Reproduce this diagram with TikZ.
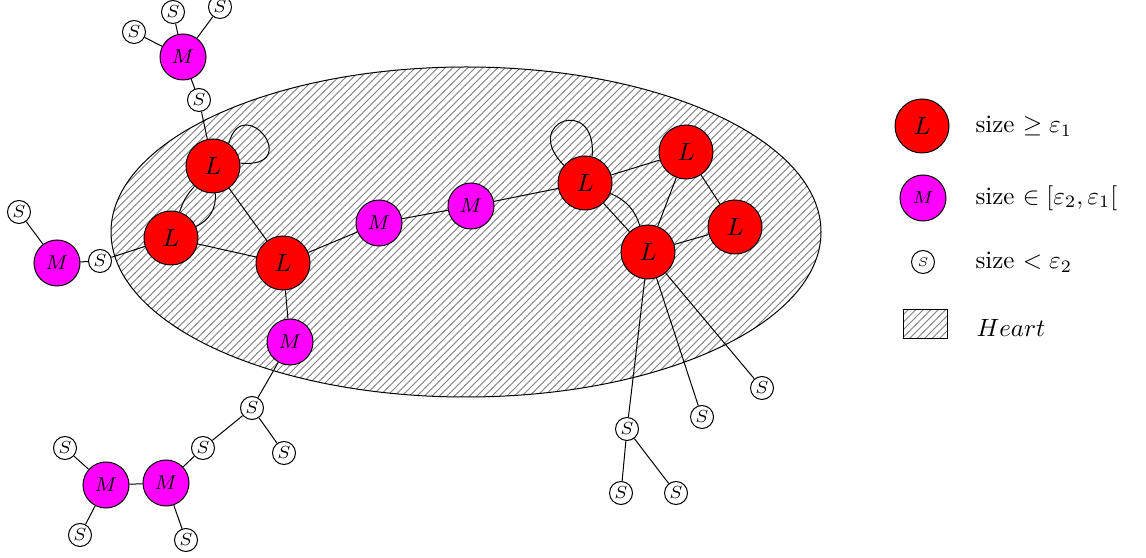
\documentclass[tikz,border=0pt]{standalone}
\usetikzlibrary{patterns}
\definecolor{mcol}{RGB}{255,0,255}

\begin{document}
\begin{tikzpicture}[x=0.4pt,y=0.4pt,yscale=-1,xscale=1,
  bignode/.style={circle,draw,fill=red,minimum size=21.6pt,inner sep=0pt,font=\normalsize},
  midnode/.style={circle,draw,fill=mcol,minimum size=18.4pt,inner sep=0pt,font=\footnotesize},
  smallnode/.style={circle,draw,fill=white,minimum size=9.2pt,inner sep=0pt,font=\scriptsize},
  heart/.style={pattern=north east lines,pattern color=gray}]
\useasboundingbox (0,0) rectangle (1146,558);

%Shape: Ellipse (the heart)
\draw [heart] (466,232) ellipse (355 and 165);

%Shape: Circle (large)
\node [bignode] (L1) at (213,166) {$L$};
\node [bignode] (L2) at (171,238) {$L$};
\node [bignode] (L3) at (283,263) {$L$};
\node [bignode] (L4) at (585,183) {$L$};
\node [bignode] (L5) at (686,152) {$L$};
\node [bignode] (L6) at (735,227) {$L$};
\node [bignode] (L7) at (648,252) {$L$};
%Shape: Circle (medium)
\node [midnode] (M1) at (183,57) {$M$};
\node [midnode] (M2) at (57,263) {$M$};
\node [midnode] (M3) at (379,223) {$M$};
\node [midnode] (M4) at (471,206) {$M$};
\node [midnode] (M5) at (290,342) {$M$};
\node [midnode] (M6) at (166,483) {$M$};
\node [midnode] (M7) at (106,485) {$M$};
%Shape: Circle (small)
\node [smallnode] (S1) at (134,32) {$S$};
\node [smallnode] (S2) at (173,12) {$S$};
\node [smallnode] (S3) at (220,7) {$S$};
\node [smallnode] (S4) at (199,100) {$S$};
\node [smallnode] (S5) at (19,212) {$S$};
\node [smallnode] (S6) at (100,261) {$S$};
\node [smallnode] (S7) at (252,408) {$S$};
\node [smallnode] (S8) at (284,453) {$S$};
\node [smallnode] (S9) at (203,448) {$S$};
\node [smallnode] (S10) at (65,448) {$S$};
\node [smallnode] (S11) at (80,535) {$S$};
\node [smallnode] (S12) at (186,540) {$S$};
\node [smallnode] (S13) at (627,429) {$S$};
\node [smallnode] (S14) at (621,493) {$S$};
\node [smallnode] (S15) at (676,493) {$S$};
\node [smallnode] (S16) at (702,417) {$S$};
\node [smallnode] (S17) at (762,388) {$S$};

%Straight Lines
\draw (M1) -- (S1) (M1) -- (S2) (M1) -- (S3) (M1) -- (S4) (S4) -- (L1);
\draw (L1) -- (L3) (L2) -- (L3) (L2) -- (S6) (S6) -- (M2) (M2) -- (S5);
\draw (L3) -- (M3) (M3) -- (M4) (M4) -- (L4);
\draw (L3) -- (M5) (M5) -- (S7) (S7) -- (S8) (S7) -- (S9) (S9) -- (M6);
\draw (M6) -- (M7) (M6) -- (S12) (M7) -- (S10) (M7) -- (S11);
\draw (L4) -- (L5) (L4) -- (L7) (L5) -- (L7) (L5) -- (L6) (L6) -- (L7);
\draw (L7) -- (S13) (S13) -- (S14) (S13) -- (S15) (L7) -- (S16) (L7) -- (S17);
%Curve Lines
\draw (L1) to [bend left=12] (L2);
\draw (L1) to [bend right=35] (L2);
\draw (L4) to [bend right=25] (L7);
\draw (L1.55) .. controls +(-75:55) and +(5:65) .. (L1.6);
\draw (L4.140) .. controls +(-135:62) and +(-85:62) .. (L4.75);

%Legend
\node [bignode] (keyL) at (922,126) {$L$};
\node [midnode,font=\scriptsize] (keyM) at (923,198) {$M$};
\node [smallnode,font=\tiny] (keyS) at (923,262) {$S$};
\node [heart,draw,minimum width=17.6pt,minimum height=11.6pt,inner sep=0pt] (keyH) at (925,324.5) {};

% Text Node
\node [anchor=west,inner sep=0pt] (txtL) at (975,126) {size $\geq \varepsilon_1$};
% Text Node
\node [anchor=west,inner sep=0pt] (txtM) at (975,198) {size $\in [\varepsilon_2,\varepsilon_1[$};
% Text Node
\node [anchor=west,inner sep=0pt] (txtS) at (975,262) {size $< \varepsilon_2$};
% Text Node
\node [anchor=west,inner sep=0pt] (txtH) at (976,328) {$Heart$};

\end{tikzpicture}
\end{document}
